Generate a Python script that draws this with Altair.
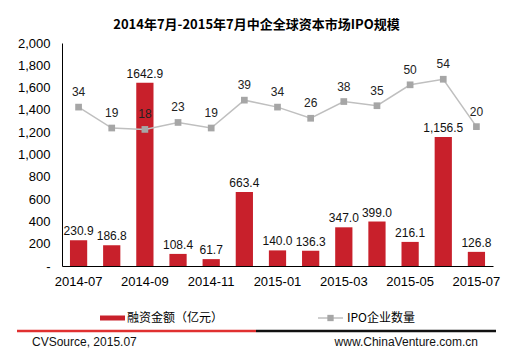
import altair as alt
import pandas as pd

months = ["2014-07", "2014-08", "2014-09", "2014-10", "2014-11", "2014-12", "2015-01",
          "2015-02", "2015-03", "2015-04", "2015-05", "2015-06", "2015-07"]
amounts = [230.9, 186.8, 1642.9, 108.4, 61.7, 663.4, 140.0, 136.3, 347.0, 399.0, 216.1, 1156.5, 126.8]
amount_labels = ["230.9", "186.8", "1642.9", "108.4", "61.7", "663.4", "140.0", "136.3",
                 "347.0", "399.0", "216.1", "1,156.5", "126.8"]
counts = [34, 19, 18, 23, 19, 39, 34, 26, 38, 35, 50, 54, 20]
shown_ticks = ["2014-07", "2014-09", "2014-11", "2015-01", "2015-03", "2015-05", "2015-07"]
y_ticks = [0, 200, 400, 600, 800, 1000, 1200, 1400, 1600, 1800, 2000]

title_text = "2014年7月-2015年7月中企全球资本市场IPO规模"
legend_bar = "融资金额（亿元）"
legend_line = "IPO企业数量"
footer_left = "CVSource, 2015.07"
footer_right = "www.ChinaVenture.com.cn"

df = pd.DataFrame({"month": months, "amount": amounts, "alabel": amount_labels, "count": counts})

FONT = "Liberation Sans"
CJK = "Noto Sans CJK SC"
RED = "#C8202B"
GRAY_LINE = "#BFBFBF"
GRAY_PT = "#A6A6A6"

xaxis = alt.Axis(values=shown_ticks, labelAngle=0, ticks=False, labelPadding=9,
                 labelOverlap=False,
                 labelFont=FONT, labelFontSize=13, labelColor="#000",
                 domainColor="#000", domainWidth=1)
xenc = alt.X("month:N", sort=months, title=None,
             scale=alt.Scale(paddingInner=0.48, paddingOuter=0.24), axis=xaxis)

yaxis = alt.Axis(values=y_ticks, ticks=False, grid=False, labelPadding=12,
                 labelOverlap=False,
                 labelFont=FONT, labelFontSize=13, labelColor="#000",
                 domainColor="#000", domainWidth=1,
                 labelExpr="datum.value == 0 ? '-' : format(datum.value, ',')")
yenc = alt.Y("amount:Q", title=None, scale=alt.Scale(domain=[0, 2000], nice=False), axis=yaxis)

base = alt.Chart(df)

bars = base.mark_bar(color=RED).encode(x=xenc, y=yenc)
bar_text = base.mark_text(baseline="bottom", dy=-2, font=FONT, fontSize=12, color="#111").encode(
    x=xenc, y=yenc, text="alabel:N")
bar_layer = alt.layer(bars, bar_text)

yline = alt.Y("count:Q", scale=alt.Scale(domain=[-80, 80], nice=False), axis=None)
line = base.mark_line(color=GRAY_LINE, strokeWidth=1.5).encode(x=xenc, y=yline)
pts = base.mark_point(shape="square", filled=True, color=GRAY_PT, size=45, opacity=1).encode(
    x=xenc, y=yline)
line_text = base.mark_text(baseline="bottom", dy=-8, font=FONT, fontSize=12, color="#222").encode(
    x=xenc, y=yline, text="count:Q")
line_layer = alt.layer(line, pts, line_text)

one = alt.Data(values=[{"k": 1}])

title = alt.Chart(one).mark_text(text=title_text, font=CJK, fontSize=13, fontWeight="bold",
                                 align="center", baseline="middle", color="#000").encode(
    x=alt.value(194.5), y=alt.value(-18))

leg_rect = alt.Chart(one).mark_rect(color=RED).encode(
    x=alt.value(38), x2=alt.value(63), y=alt.value(272.5), y2=alt.value(277.5))
leg_text1 = alt.Chart(one).mark_text(text=legend_bar, font=CJK, fontSize=12, align="left",
                                     baseline="middle", color="#000").encode(
    x=alt.value(65), y=alt.value(275))
leg_rule = alt.Chart(one).mark_rule(color=GRAY_LINE, strokeWidth=1.5).encode(
    x=alt.value(256), x2=alt.value(281), y=alt.value(275))
leg_pt = alt.Chart(one).mark_point(shape="square", filled=True, color=GRAY_PT, size=40, opacity=1).encode(
    x=alt.value(268.5), y=alt.value(275))
leg_text2 = alt.Chart(one).mark_text(text=legend_line, font=CJK, fontSize=12, align="left",
                                     baseline="middle", color="#000").encode(
    x=alt.value(285), y=alt.value(275))

foot_red = alt.Chart(one).mark_rule(color="#E03030", strokeWidth=2.5).encode(
    x=alt.value(-45), x2=alt.value(194), y=alt.value(288))
foot_black = alt.Chart(one).mark_rule(color="#111", strokeWidth=2.5).encode(
    x=alt.value(194), x2=alt.value(434), y=alt.value(288))
foot_l = alt.Chart(one).mark_text(text=footer_left, font=FONT, fontSize=12, align="left",
                                  baseline="middle", color="#111").encode(
    x=alt.value(-30), y=alt.value(299))
foot_r = alt.Chart(one).mark_text(text=footer_right, font=FONT, fontSize=12, align="right",
                                  baseline="middle", color="#111").encode(
    x=alt.value(416), y=alt.value(299))

chart = alt.layer(
    bar_layer, line_layer,
    title, leg_rect, leg_text1, leg_rule, leg_pt, leg_text2,
    foot_red, foot_black, foot_l, foot_r,
).resolve_scale(y="independent").properties(
    width=431, height=223,
    background="white",
    autosize=alt.AutoSizeParams(type="none"),
    padding={"left": 62, "top": 43, "right": 12, "bottom": 91},
).configure_view(stroke=None).configure_axis(labelOverlap=False)

chart.save("out.html", embed_options={"renderer": "svg", "actions": False})
